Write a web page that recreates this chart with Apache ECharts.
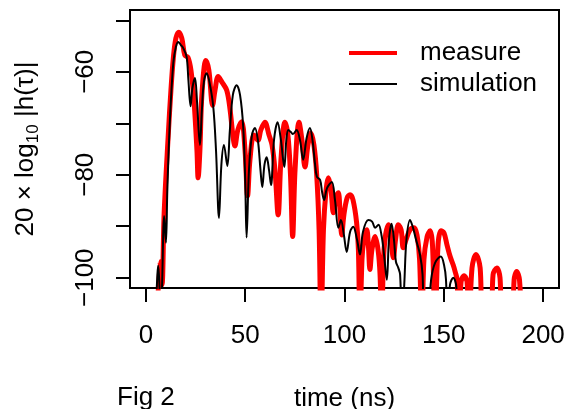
<!DOCTYPE html>
<html>
<head>
<meta charset="utf-8">
<script src="https://cdn.jsdelivr.net/npm/echarts@6/dist/echarts.min.js"></script>
<style>html,body{margin:0;padding:0;background:#fff;}#c{width:567px;height:409px;}</style>
</head>
<body>
<div id="c"></div>
<script>
// ---- data ----
const measureTime = [5.5,7.1,8.1,9.2,11.2,12.6,13.8,15.1,16.6,18.1,19.6,21.2,22.7,24.2,25.7,26.3,27.2,28.2,30.2,31.7,33.6,34.8,36.4,38.3,40.7,42.3,43.8,44.8,46.3,48.2,49.9,51.2,52.4,54.4,56.4,57.9,59.9,62,63.5,65,66.6,68,70,71.5,72.8,73.9,75.1,77.1,78.6,80.1,81.6,83.1,84.6,86,87.2,88.2,89.4,90.7,91.8,93.2,94.4,95.7,96.9,97.7,98.6,99.7,101.3,102.8,104.3,106.1,107,107.8,108.8,109.8,111.2,112,112.8,113.8,115.4,116.9,117.9,118.7,119.9,122.1,123.4,124.6,125.7,127.1,128.5,129.6,131,133,135,136.5,137.8,138.9,140,141.6,143.1,144.3,145.6,147.1,148.6,150.1,151.6,153.2,154.7,155.7,156.7,157.4,158.7,160.2,161.7,162.7,164.2,166.2,168.3,169.5,173.8,174.8,176.7,178.3,179.3,184.4,185.4,186.7,188.1,189.2];
const measureDb = [-110,-96.9,-101.4,-87.4,-72.7,-63.6,-57.4,-53.5,-52.3,-53.5,-56.8,-57.2,-59.7,-65.5,-75.2,-80.6,-75.2,-64.5,-57.8,-59.7,-66.5,-63.6,-60.9,-62,-63.6,-67.1,-72.3,-74.4,-71.3,-69.7,-75.2,-84.1,-77.1,-72.3,-73.3,-71.3,-69.8,-72.3,-74.2,-79.1,-87.8,-77.1,-69.8,-72.3,-80,-92,-79.1,-69.8,-73.3,-78.5,-74.2,-71.9,-74.2,-80,-90.7,-110,-90.7,-83,-80.6,-83,-87.4,-84.5,-83.5,-86.8,-91.7,-87.8,-84.5,-83.9,-84.9,-89.3,-94.6,-110,-96.5,-92.6,-90.7,-93.6,-98.4,-94.6,-92,-94.6,-99.4,-110,-94.6,-89.7,-92.6,-96.1,-92.6,-89.7,-90.7,-94.2,-92.6,-90.7,-90.3,-91.7,-96.5,-110,-96.5,-92,-90.9,-93.6,-110,-93.6,-90.9,-91.3,-93.6,-95.9,-97.5,-98.8,-100.4,-110,-100.8,-99.6,-100.8,-110,-98.1,-95.5,-98.1,-110,-110,-99.4,-98.1,-100,-110,-110,-100.4,-98.8,-100.4,-110];

const simTime = [4.5,5.8,6.2,6.8,7.3,8.1,9.2,10.1,10.8,12.1,13.8,15.1,16.3,17.6,18.8,20.5,21.4,22.5,23.4,24.7,25.7,27.2,28.2,29.2,30.6,32,33.9,35.3,36.8,38,39.3,41,42.3,43.8,45.7,47.4,49,50,50.7,51.9,53.4,54.9,56.4,57.7,58.6,59.7,60.8,62,63,64.5,66.3,68,69.7,70.7,71.7,73,74,75.9,77.6,79.2,80.9,82.6,83.9,85.1,86.1,87.7,88.7,89.7,91.2,93.6,95.2,96.9,98.2,99.7,101.1,102.8,104.4,106.3,107.8,109.3,112,113.9,115.4,117.1,118.7,119.9,121.3,122.4,123.7,124.9,125.9,127.1,128,129,130.2,131.2,133,134.5,136,138,139.3,140.2,141.6,143.6,145.6,148.5,150.1,151.1,151.9,153.1,154.8,156.2,157.4];
const simDb = [-110,-99.4,-97.7,-101.4,-110,-102.3,-88,-93.2,-82.9,-69.4,-58.3,-55.2,-54.2,-54.8,-55.4,-57.1,-61.6,-66.7,-63.2,-61.2,-65.5,-74.2,-67.4,-62,-60.3,-62,-66.7,-75.2,-88.4,-78.1,-74.2,-78.3,-71.3,-64.5,-62.6,-64.5,-70.7,-81,-92.2,-79.1,-72.3,-70.9,-73.3,-79.1,-82.4,-78.1,-76.6,-79.1,-82,-73.3,-69.8,-73.3,-78.5,-73.3,-71.3,-71.7,-72.1,-71.3,-73.3,-77.1,-72.9,-70.9,-73.3,-77.7,-80.4,-81,-83.3,-84.9,-82.6,-81.4,-84.9,-90.3,-88.8,-91.7,-95,-91.1,-90.1,-92.6,-95.5,-91.1,-88.8,-89.1,-90.3,-89.7,-91.9,-95.5,-100.4,-92.6,-89.5,-92.6,-96.9,-98.1,-99.4,-110,-100.4,-92.6,-88.8,-90.3,-92.6,-95.5,-99.4,-110,-110,-100.4,-97.1,-95.9,-97.5,-100.4,-110,-101.4,-100,-101.4,-110];

const xTickValues = [0, 50, 100, 150, 200];
const yTickValues = [-100, -90, -80, -70, -60, -50];
const yLabelValues = [-100, -80, -60];
const seriesNames = ['measure', 'simulation'];
const seriesColors = ['#ff0000', '#000000'];

// ---- chart ----
const FONT = 'Liberation Sans';
const RED_W = 5, BLACK_W = 2;
const minus = v => String(v).replace('-', '\u2212');
const zip = (xs, ys) => xs.map((x, i) => [x, ys[i]]);

const chart = echarts.init(document.getElementById('c'), null, {renderer: 'canvas'});
chart.setOption({
  animation: false,
  backgroundColor: '#fff',
  textStyle: {fontFamily: FONT, color: '#000'},
  title: {
    text: 'Fig 2', left: 117, top: 385,
    textStyle: {fontFamily: FONT, fontSize: 26, fontWeight: 'normal', color: '#000'},
    padding: 0
  },
  grid: {
    left: 130, top: 10, width: 429, height: 278,
    containLabel: false, outerBoundsMode: 'none',
    show: true, borderColor: '#000', borderWidth: 2, backgroundColor: 'transparent'
  },
  legend: {
    orient: 'vertical', left: 347, top: 40, padding: 0,
    itemWidth: 48, itemHeight: 14, itemGap: 5,
    data: [
      {name: seriesNames[0], lineStyle: {color: seriesColors[0], width: 4}},
      {name: seriesNames[1], lineStyle: {color: seriesColors[1], width: 2}}
    ],
    itemStyle: {opacity: 0},
    textStyle: {fontFamily: FONT, fontSize: 26, color: '#000', padding: [0, 0, 0, 18]}
  },
  xAxis: {
    type: 'value', min: -8, max: 208,
    name: 'time (ns)', nameLocation: 'middle', nameGap: 98,
    nameTextStyle: {fontFamily: FONT, fontSize: 26, color: '#000'},
    axisLine: {show: false, onZero: false},
    axisTick: {show: true, inside: false, length: 14, customValues: xTickValues, lineStyle: {color: '#000', width: 2}},
    axisLabel: {customValues: xTickValues, margin: 35, fontFamily: FONT, fontSize: 26, color: '#000', formatter: minus},
    splitLine: {show: false}
  },
  yAxis: {
    type: 'value', min: -102, max: -48,
    name: '{a|20 \u00d7 log}{s|10}{a| |h(\u03c4)|}', nameLocation: 'middle', nameGap: 88, nameRotate: 90,
    nameTextStyle: {
      fontFamily: FONT, color: '#000',
      rich: {
        a: {fontFamily: FONT, fontSize: 26, lineHeight: 32, color: '#000'},
        s: {fontFamily: FONT, fontSize: 17, lineHeight: 20, verticalAlign: 'bottom', color: '#000'}
      }
    },
    axisLine: {show: false, onZero: false},
    axisTick: {show: true, inside: false, length: 14, customValues: yTickValues, lineStyle: {color: '#000', width: 2}},
    axisLabel: {customValues: yLabelValues, rotate: 90, margin: 31, fontFamily: FONT, fontSize: 26, color: '#000', formatter: minus},
    splitLine: {show: false}
  },
  series: [
    {
      name: seriesNames[0], type: 'line', data: zip(measureTime, measureDb),
      symbol: 'none', showSymbol: false, smooth: 0.35, clip: true,
      lineStyle: {color: seriesColors[0], width: RED_W}, itemStyle: {color: seriesColors[0]}, z: 2
    },
    {
      name: seriesNames[1], type: 'line', data: zip(simTime, simDb),
      symbol: 'none', showSymbol: false, smooth: 0.35, clip: true,
      lineStyle: {color: seriesColors[1], width: BLACK_W}, itemStyle: {color: seriesColors[1]}, z: 3
    }
  ]
});
</script>
</body>
</html>
